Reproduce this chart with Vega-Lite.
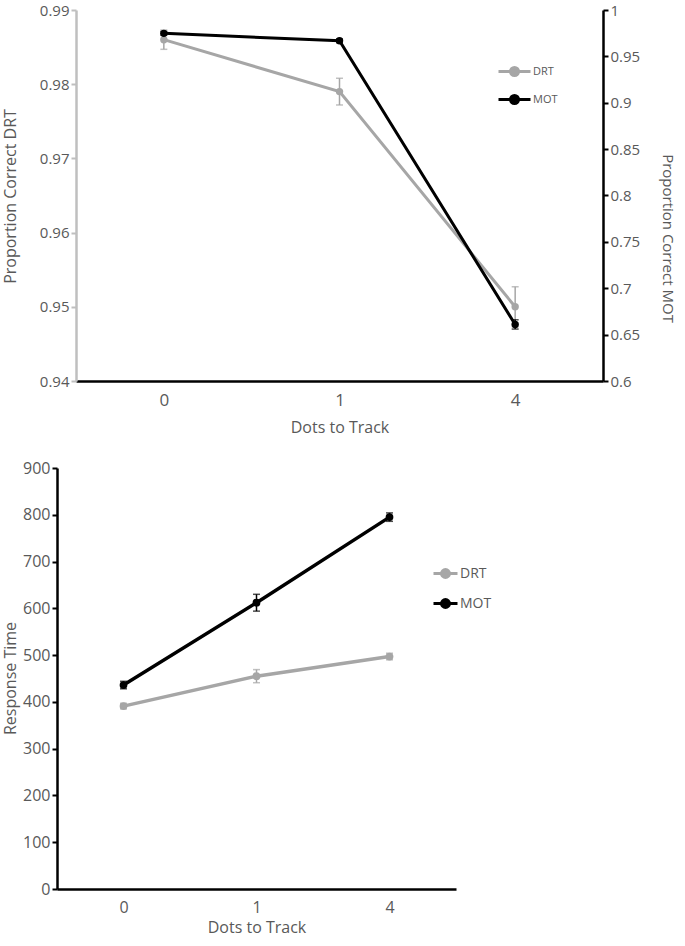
{
  "$schema": "https://vega.github.io/schema/vega-lite/v6.json",
  "padding": {"left": 2, "top": 3, "right": 0, "bottom": 0},
  "spacing": 25,
  "config": {
    "view": {"stroke": null},
    "font": "Open Sans",
    "axis": {"labelColor": "#595959", "titleColor": "#595959", "grid": false, "labelFont": "Open Sans", "titleFont": "Open Sans", "titleFontWeight": "normal"},
    "legend": {"labelFont": "Open Sans", "labelColor": "#595959"}
  },
  "resolve": {"scale": {"color": "independent"}, "legend": {"color": "independent"}},
  "datasets": {
    "accuracy": [
      {"task": "DRT", "dots": "0", "mean": 0.986, "err": 0.0013},
      {"task": "DRT", "dots": "1", "mean": 0.979, "err": 0.0018},
      {"task": "DRT", "dots": "4", "mean": 0.95, "err": 0.0027},
      {"task": "MOT", "dots": "0", "mean": 0.9748, "err": 0.002},
      {"task": "MOT", "dots": "1", "mean": 0.9668, "err": 0.002},
      {"task": "MOT", "dots": "4", "mean": 0.661, "err": 0.005}
    ],
    "rt": [
      {"task": "DRT", "dots": "0", "mean": 391, "err": 6},
      {"task": "DRT", "dots": "1", "mean": 455, "err": 14},
      {"task": "DRT", "dots": "4", "mean": 497, "err": 7},
      {"task": "MOT", "dots": "0", "mean": 436, "err": 8},
      {"task": "MOT", "dots": "1", "mean": 612, "err": 18},
      {"task": "MOT", "dots": "4", "mean": 795, "err": 9}
    ]
  },
  "vconcat": [
    {
      "width": 527,
      "height": 371,
      "data": {"name": "accuracy"},
      "encoding": {
        "x": {"field": "dots", "type": "ordinal", "sort": ["0", "1", "4"], "scale": {"type": "point", "padding": 0.5},
          "axis": {"title": "Dots to Track", "labelAngle": 0, "ticks": false, "labelFontSize": 17, "labelPadding": 11, "titleFontSize": 16, "titlePadding": 11, "domainColor": "#000000", "domainWidth": 2.5}}
      },
      "layer": [
        {
          "transform": [{"filter": "datum.task === 'DRT'"}],
          "encoding": {
            "y": {"field": "mean", "type": "quantitative", "scale": {"domain": [0.94, 0.99], "nice": false, "zero": false},
              "axis": {"orient": "left", "title": "Proportion Correct DRT", "values": [0.94, 0.95, 0.96, 0.97, 0.98, 0.99], "format": ".2f", "labelFontSize": 15, "domainColor": "#BFBFBF", "domainWidth": 2.5, "tickColor": "#BFBFBF", "tickWidth": 2, "tickSize": 5, "titleFontSize": 16, "titleX": -66, "titleY": 186, "titleBaseline": "middle"}}
          },
          "layer": [
            {"mark": {"type": "line", "strokeWidth": 3, "point": {"size": 55, "filled": true, "opacity": 1}},
              "encoding": {"color": {"field": "task", "type": "nominal", "scale": {"domain": ["DRT", "MOT"], "range": ["#A6A6A6", "#000000"]},
                "legend": {"title": null, "orient": "none", "legendX": 421, "legendY": 44, "labelFontSize": 11, "rowPadding": -5, "symbolType": "M-1,0H1M-0.25,0A0.25,0.25 0 1,0 0.25,0A0.25,0.25 0 1,0 -0.25,0Z", "symbolSize": 1024, "symbolStrokeWidth": 3, "labelOffset": 1}}}},
            {"mark": {"type": "errorbar", "color": "#A6A6A6", "thickness": 1.5, "ticks": {"size": 7}},
              "encoding": {"yError": {"field": "err"}}}
          ]
        },
        {
          "transform": [{"filter": "datum.task === 'MOT'"}],
          "encoding": {
            "y": {"field": "mean", "type": "quantitative", "scale": {"domain": [0.6, 1], "nice": false, "zero": false},
              "axis": {"orient": "right", "title": "Proportion Correct MOT", "values": [0.6, 0.65, 0.7, 0.75, 0.8, 0.85, 0.9, 0.95, 1], "format": ".2~f", "labelFontSize": 15, "domainColor": "#000000", "domainWidth": 2.5, "tickColor": "#000000", "tickWidth": 2, "tickSize": 5, "titleFontSize": 15, "titleX": 64, "titleY": 228, "titleBaseline": "middle", "titleAngle": 90}}
          },
          "layer": [
            {"mark": {"type": "line", "strokeWidth": 3, "point": {"size": 55, "filled": true, "opacity": 1}},
              "encoding": {"color": {"field": "task", "type": "nominal", "scale": {"domain": ["DRT", "MOT"], "range": ["#A6A6A6", "#000000"]}}}},
            {"mark": {"type": "errorbar", "color": "#000000", "thickness": 1.5, "ticks": {"size": 7}},
              "encoding": {"yError": {"field": "err"}}}
          ]
        }
      ],
      "resolve": {"scale": {"y": "independent"}, "axis": {"y": "independent"}}
    },
    {
      "width": 380,
      "height": 421,
      "data": {"name": "rt"},
      "encoding": {
        "x": {"field": "dots", "type": "ordinal", "sort": ["0", "1", "4"], "scale": {"type": "point", "padding": 0.5, "range": [-19, 380]},
          "axis": {"title": "Dots to Track", "labelAngle": 0, "ticks": false, "labelFontSize": 16, "labelPadding": 10, "titleFontSize": 16, "titlePadding": 4, "domainColor": "#000000", "domainWidth": 2.5}},
        "y": {"field": "mean", "type": "quantitative", "scale": {"domain": [0, 900], "nice": false},
          "axis": {"title": "Response Time", "values": [0, 100, 200, 300, 400, 500, 600, 700, 800, 900], "offset": 19, "labelFontSize": 16, "domainColor": "#000000", "domainWidth": 2.5, "tickColor": "#000000", "tickWidth": 2, "tickSize": 5, "titleFontSize": 16, "titleX": -47, "titleY": 210, "titleBaseline": "middle"}}
      },
      "layer": [
        {"mark": {"type": "line", "strokeWidth": 3.5, "point": {"size": 60, "filled": true, "opacity": 1}},
          "encoding": {"color": {"field": "task", "type": "nominal", "scale": {"domain": ["DRT", "MOT"], "range": ["#A6A6A6", "#000000"]},
            "legend": {"title": null, "orient": "none", "legendX": 356, "legendY": 92, "labelFontSize": 14, "rowPadding": 6, "symbolType": "M-1,0H1M-0.33,0A0.33,0.33 0 1,0 0.33,0A0.33,0.33 0 1,0 -0.33,0Z", "symbolSize": 576, "symbolStrokeWidth": 3, "labelOffset": 1}}}},
        {"mark": {"type": "errorbar", "thickness": 1.5, "ticks": {"size": 7}},
          "encoding": {"yError": {"field": "err"}, "color": {"field": "task", "type": "nominal", "scale": {"domain": ["DRT", "MOT"], "range": ["#A6A6A6", "#000000"]}, "legend": null}}}
      ]
    }
  ]
}
